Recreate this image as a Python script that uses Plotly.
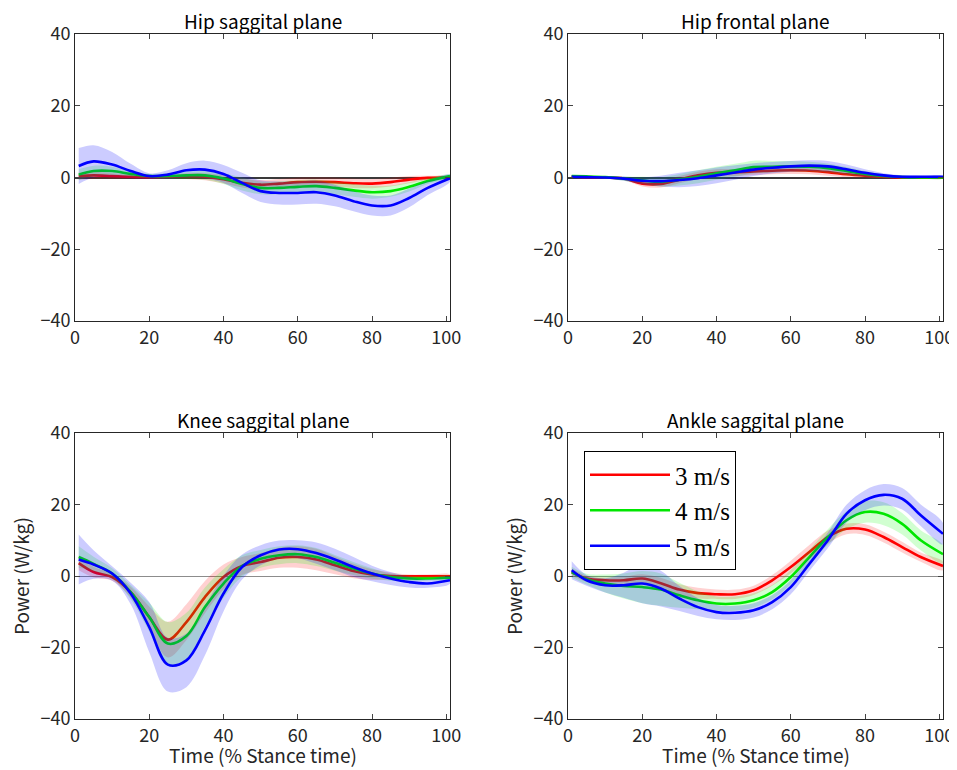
import numpy as np
import plotly.graph_objects as go

# ---------------- data ----------------
X_PCT = [1, 5, 10, 15, 20, 25, 30, 35, 40, 45, 50, 55, 60, 65, 70, 75, 80, 85, 90, 95, 101]
SPEEDS = ["3 m/s", "4 m/s", "5 m/s"]
X_TICKS = [0, 20, 40, 60, 80, 100]
Y_TICKS = [-40, -20, 0, 20, 40]
TITLES = ["Hip saggital plane", "Hip frontal plane", "Knee saggital plane", "Ankle saggital plane"]

# Hip sagittal
HIP_SAG_3 = [0.4, 0.6, 0.4, 0.2, 0.1, 0.2, 0.4, 0.2, -0.5, -1.5, -2.0, -1.7, -1.3, -1.2, -1.3, -1.6, -1.7, -1.3, -0.6, -0.1, 0.0]
HIP_SAG_4 = [0.8, 1.8, 1.8, 1.0, 0.4, 0.4, 0.6, 0.6, -0.3, -1.8, -2.9, -2.9, -2.6, -2.4, -2.9, -3.6, -4.1, -3.8, -2.6, -1.0, 0.4]
HIP_SAG_5 = [3.2, 4.5, 3.6, 1.8, 0.4, 0.8, 2.0, 2.2, 1.0, -1.5, -3.8, -4.3, -4.3, -4.1, -5.0, -6.6, -7.8, -7.8, -5.7, -2.9, -0.2]
HIP_SAG_3_SD = [1.0, 1.0, 0.8, 0.6, 0.5, 0.6, 0.8, 1.0, 1.2, 1.3, 1.3, 1.3, 1.3, 1.3, 1.3, 1.3, 1.3, 1.2, 1.0, 0.6, 0.3]
HIP_SAG_4_SD = [1.5, 1.5, 1.2, 0.8, 0.6, 0.8, 1.0, 1.2, 1.5, 1.8, 1.8, 1.8, 1.8, 1.8, 1.8, 1.8, 1.8, 1.6, 1.3, 0.8, 0.4]
HIP_SAG_5_SD = [5.0, 4.5, 3.5, 2.0, 0.8, 1.2, 2.0, 2.5, 2.5, 2.8, 3.0, 3.2, 3.2, 3.2, 3.0, 2.8, 2.8, 2.8, 2.6, 2.0, 1.0]

# Hip frontal
HIP_FRO_3 = [0.3, 0.1, 0.0, -0.3, -1.7, -1.8, -0.6, 0.6, 1.3, 1.4, 1.7, 1.9, 2.0, 1.9, 1.5, 0.9, 0.5, 0.2, 0.0, 0.0, 0.0]
HIP_FRO_4 = [0.4, 0.3, 0.1, -0.3, -0.8, -1.2, -0.6, 0.2, 1.2, 2.0, 2.9, 3.0, 3.1, 3.0, 2.6, 1.8, 1.0, 0.4, 0.1, 0.0, 0.0]
HIP_FRO_5 = [0.2, 0.1, 0.0, -0.3, -0.9, -1.0, -0.7, -0.2, 0.6, 1.4, 2.2, 2.7, 3.1, 3.3, 3.1, 2.3, 1.3, 0.6, 0.2, 0.2, 0.2]
HIP_FRO_3_SD = [0.3, 0.3, 0.3, 0.5, 0.8, 1.0, 1.0, 1.0, 1.0, 1.0, 1.0, 1.0, 1.0, 1.0, 1.0, 0.8, 0.6, 0.4, 0.3, 0.3, 0.3]
HIP_FRO_4_SD = [0.3, 0.3, 0.3, 0.6, 1.0, 1.3, 1.6, 1.8, 1.8, 1.8, 1.8, 1.6, 1.5, 1.4, 1.3, 1.1, 0.8, 0.5, 0.3, 0.3, 0.3]
HIP_FRO_5_SD = [0.4, 0.3, 0.3, 0.6, 1.0, 1.5, 2.0, 2.2, 2.2, 2.0, 1.8, 1.6, 1.5, 1.5, 1.5, 1.3, 1.0, 0.6, 0.4, 0.3, 0.3]

# Knee sagittal
KNEE_SAG_3 = [3.6, 1.1, -0.3, -4.5, -11.5, -17.8, -12.9, -5.9, -0.3, 2.8, 3.9, 5.1, 5.3, 4.6, 3.0, 1.4, 0.4, 0.0, -0.1, -0.1, -0.1]
KNEE_SAG_4 = [5.3, 3.4, 0.7, -4.5, -11.5, -18.9, -16.8, -8.7, -2.1, 2.8, 4.8, 5.8, 6.1, 5.3, 3.7, 2.1, 0.7, -0.3, -0.7, -0.7, -0.5]
KNEE_SAG_5 = [4.6, 3.2, 0.7, -4.9, -14.3, -24.8, -23.6, -15.2, -4.9, 2.5, 5.8, 7.4, 7.5, 6.4, 4.6, 2.5, 0.7, -0.7, -1.7, -2.1, -1.2]
KNEE_SAG_3_SD = [2.0, 1.5, 1.0, 1.5, 3.0, 5.0, 5.0, 4.5, 3.5, 2.5, 2.5, 2.8, 3.0, 3.0, 2.5, 2.0, 1.5, 1.0, 0.5, 0.5, 0.5]
KNEE_SAG_4_SD = [3.0, 2.0, 1.5, 2.0, 4.0, 6.0, 6.5, 5.5, 4.0, 3.0, 2.5, 2.5, 2.5, 2.5, 2.2, 1.8, 1.5, 1.0, 0.8, 0.6, 0.5]
KNEE_SAG_5_SD = [7.0, 4.0, 2.0, 3.0, 7.0, 7.5, 7.5, 7.0, 5.0, 3.5, 2.8, 2.5, 2.5, 3.0, 3.0, 2.8, 2.2, 1.8, 1.5, 1.2, 1.0]

# Ankle sagittal
ANK_SAG_3 = [1.1, -0.7, -1.2, -1.2, -0.7, -2.0, -3.8, -4.8, -5.1, -5.1, -4.0, -1.2, 2.5, 6.7, 10.9, 13.2, 13.0, 10.9, 8.1, 5.3, 2.8]
ANK_SAG_4 = [1.1, -0.9, -2.1, -2.8, -3.1, -3.8, -5.4, -6.8, -7.7, -7.7, -6.8, -4.5, -0.3, 5.3, 10.9, 15.6, 17.9, 17.4, 14.6, 10.0, 6.1]
ANK_SAG_5 = [1.6, -1.2, -2.6, -2.6, -2.1, -3.5, -6.3, -8.7, -10.1, -10.3, -9.6, -7.3, -3.1, 3.4, 10.0, 17.4, 21.2, 22.7, 21.6, 17.0, 11.8]
ANK_SAG_3_SD = [1.0, 0.8, 0.8, 1.0, 1.2, 1.5, 1.5, 1.5, 1.3, 1.3, 1.3, 1.5, 1.8, 2.0, 1.8, 1.5, 1.5, 1.5, 1.5, 1.3, 1.2]
ANK_SAG_4_SD = [1.5, 1.5, 2.5, 3.5, 4.5, 4.5, 3.5, 2.5, 2.0, 2.0, 2.0, 2.0, 2.0, 2.0, 2.2, 2.5, 3.0, 3.2, 3.0, 2.8, 2.5]
ANK_SAG_5_SD = [2.5, 1.5, 2.0, 3.5, 5.5, 5.0, 3.5, 2.5, 2.0, 2.0, 2.0, 2.0, 2.0, 2.0, 2.2, 2.5, 2.8, 3.0, 3.0, 3.0, 3.0]

PANELS = [
    ([HIP_SAG_3, HIP_SAG_4, HIP_SAG_5], [HIP_SAG_3_SD, HIP_SAG_4_SD, HIP_SAG_5_SD]),
    ([HIP_FRO_3, HIP_FRO_4, HIP_FRO_5], [HIP_FRO_3_SD, HIP_FRO_4_SD, HIP_FRO_5_SD]),
    ([KNEE_SAG_3, KNEE_SAG_4, KNEE_SAG_5], [KNEE_SAG_3_SD, KNEE_SAG_4_SD, KNEE_SAG_5_SD]),
    ([ANK_SAG_3, ANK_SAG_4, ANK_SAG_5], [ANK_SAG_3_SD, ANK_SAG_4_SD, ANK_SAG_5_SD]),
]

LINE_COLORS = ["rgb(255,0,0)", "rgb(0,230,0)", "rgb(0,0,255)"]
BAND_COLORS = ["rgba(255,0,0,0.18)", "rgba(0,255,0,0.18)", "rgba(0,0,255,0.2)"]

# ---------------- layout geometry ----------------
# page body adds an 8px margin, so the figure is 8px smaller on each axis
OFF = 8
W, H = 957 - OFF, 770 - OFF


def px_x(a, b):
    return [(a - OFF) / W, (b - OFF) / W]


def px_y(top, bottom):
    return [1 - (bottom - OFF) / H, 1 - (top - OFF) / H]


XDOM = [px_x(75, 450), px_x(568, 943)]
YDOM = [px_y(34, 321), px_y(433, 719)]

fig = go.Figure()
x = np.array(X_PCT, dtype=float)
TICK_FONT = dict(family="Noto Sans CJK JP", size=18, color="#262626")
LABEL_FONT = dict(family="Noto Sans CJK JP", size=19, color="#262626")

for p, (means, sds) in enumerate(PANELS):
    row, col = divmod(p, 2)
    ax = "" if p == 0 else str(p + 1)
    for k in range(3):
        m = np.array(means[k], dtype=float)
        s = np.array(sds[k], dtype=float)
        fig.add_trace(go.Scatter(
            x=np.concatenate([x, x[::-1]]), y=np.concatenate([m + s, (m - s)[::-1]]),
            fill="toself", fillcolor=BAND_COLORS[k], line=dict(width=0, shape="spline"),
            mode="lines", hoverinfo="skip", showlegend=False,
            xaxis="x" + ax, yaxis="y" + ax))
        fig.add_trace(go.Scatter(
            x=x, y=m, mode="lines", name=SPEEDS[k],
            line=dict(color=LINE_COLORS[k], width=2.6, shape="spline"),
            showlegend=(p == 3), xaxis="x" + ax, yaxis="y" + ax))
    zero_color = "#3a3a3a" if row == 0 else "#8c8c8c"
    zero_w = 2 if row == 0 else 1
    fig.update_layout(**{
        "xaxis" + ax: dict(domain=XDOM[col], range=[0, 101], tickvals=X_TICKS,
                           ticks="inside", ticklen=5, mirror="ticks", showline=True,
                           linecolor="#262626", linewidth=1, showgrid=False, zeroline=False,
                           tickfont=TICK_FONT, anchor="y" + ax, automargin=False),
        "yaxis" + ax: dict(domain=YDOM[row], range=[-40, 40], tickvals=Y_TICKS,
                           ticktext=[("\u2212" + str(-v)) if v < 0 else str(v) for v in Y_TICKS],
                           ticks="inside", ticklen=5, mirror="ticks", showline=True,
                           linecolor="#262626", linewidth=1, showgrid=False, zeroline=True,
                           zerolinecolor=zero_color, zerolinewidth=zero_w,
                           tickfont=TICK_FONT, anchor="x" + ax, automargin=False),
    })
    cx = (XDOM[col][0] + XDOM[col][1]) / 2
    fig.add_annotation(text=TITLES[p], x=cx, y=YDOM[row][1], xref="paper", yref="paper",
                       xanchor="center", yanchor="bottom", yshift=-2, showarrow=False,
                       font=dict(family="Noto Sans CJK JP", size=19, color="black"))
    if row == 1:
        fig.add_annotation(text="Time (% Stance time)", x=cx, y=YDOM[row][0], xref="paper",
                           yref="paper", xanchor="center", yanchor="middle", yshift=-35,
                           showarrow=False, font=LABEL_FONT)
        fig.add_annotation(text="Power (W/kg)", x=XDOM[col][0], y=(YDOM[row][0] + YDOM[row][1]) / 2,
                           xref="paper", yref="paper", xanchor="center", yanchor="middle",
                           xshift=-55, textangle=-90, showarrow=False, font=LABEL_FONT)

fig.update_layout(
    width=W, height=H, margin=dict(l=0, r=0, t=0, b=0),
    plot_bgcolor="white", paper_bgcolor="white",
    legend=dict(x=(584 - OFF) / W, y=1 - (451 - OFF) / H, xanchor="left", yanchor="top",
                bgcolor="white", bordercolor="black", borderwidth=1,
                font=dict(family="Liberation Serif", size=25, color="black"),
                itemwidth=80, tracegroupgap=0),
)

fig.write_html("out.html")
